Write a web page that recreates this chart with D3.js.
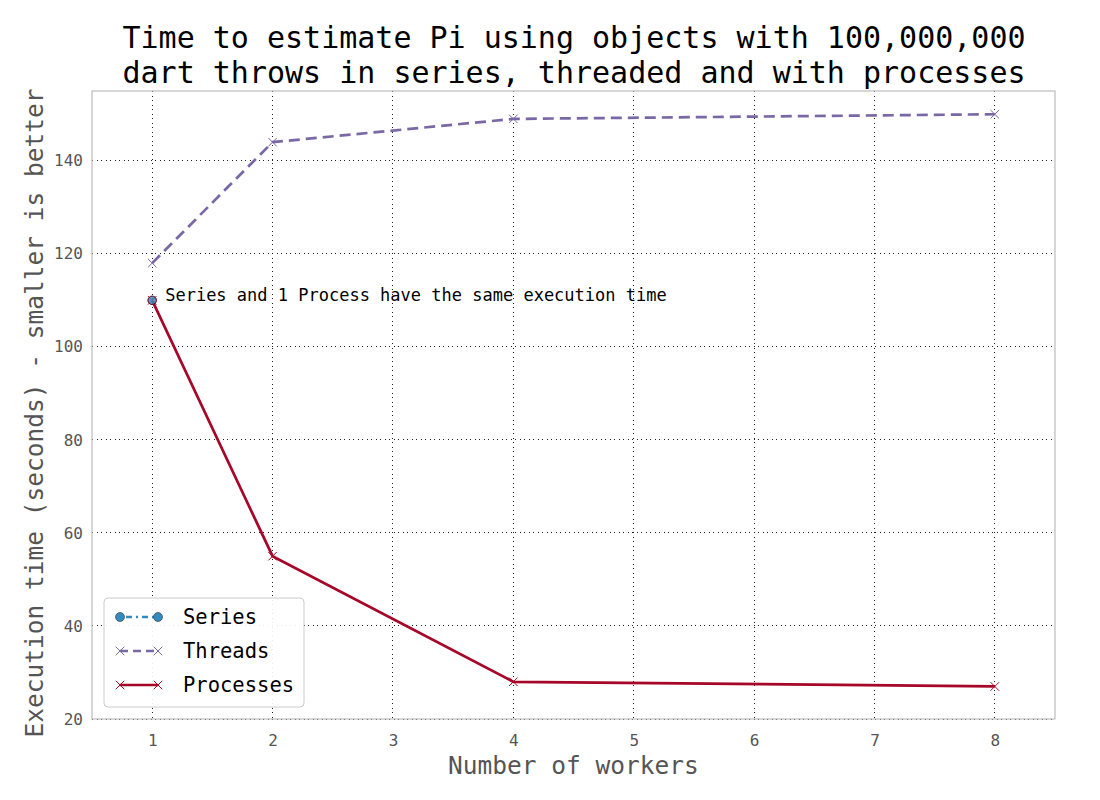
<!DOCTYPE html>
<html>
<head>
<meta charset="utf-8">
<title>Time to estimate Pi</title>
<script src="https://d3js.org/d3.v7.min.js"></script>
<style>
  body { margin: 0; background: #fff; }
  text { font-family: "DejaVu Sans Mono", "Liberation Mono", monospace; }
</style>
</head>
<body>
<div id="chart"></div>
<script>
// ---- data ----
const seriesWorkers = [1];
const seriesTimes = [110];
const threadWorkers = [1, 2, 4, 8];
const threadTimes = [118, 144, 149, 150];
const processWorkers = [1, 2, 4, 8];
const processTimes = [110, 55, 28, 27];
const xTicks = [1, 2, 3, 4, 5, 6, 7, 8];
const yTicks = [20, 40, 60, 80, 100, 120, 140];

const width = 1100, height = 800;
const margin = {top: 91, right: 45, bottom: 81, left: 92};

const svg = d3.select("#chart").append("svg")
    .attr("width", width)
    .attr("height", height);

const x = d3.scaleLinear().domain([0.5, 8.5]).range([margin.left, width - margin.right]);
const y = d3.scaleLinear().domain([20, 155]).range([height - margin.bottom, margin.top]);

// grid
svg.append("g").selectAll("line").data(xTicks).join("line")
    .attr("x1", d => x(d)).attr("x2", d => x(d))
    .attr("y1", y.range()[1]).attr("y2", y.range()[0])
    .attr("stroke", "#222").attr("stroke-width", 1).attr("stroke-dasharray", "1,3.5")
    .attr("shape-rendering", "crispEdges");
svg.append("g").selectAll("line").data(yTicks).join("line")
    .attr("y1", d => y(d)).attr("y2", d => y(d))
    .attr("x1", x.range()[0]).attr("x2", x.range()[1])
    .attr("stroke", "#222").attr("stroke-width", 1).attr("stroke-dasharray", "1,3.5")
    .attr("shape-rendering", "crispEdges");

// axes (labels only, frame drawn separately)
const xAxis = svg.append("g")
    .attr("transform", `translate(0,${height - margin.bottom})`)
    .call(d3.axisBottom(x).tickValues(xTicks).tickSize(0).tickPadding(16));
const yAxis = svg.append("g")
    .attr("transform", `translate(${margin.left},0)`)
    .call(d3.axisLeft(y).tickValues(yTicks).tickSize(0).tickPadding(9));
[xAxis, yAxis].forEach(a => {
  a.select(".domain").remove();
  a.selectAll("text").attr("fill", "#555").style("font-size", "16px")
    .style("font-family", "'DejaVu Sans Mono', monospace");
});

// frame
svg.append("rect")
    .attr("x", margin.left).attr("y", margin.top)
    .attr("width", width - margin.left - margin.right)
    .attr("height", height - margin.top - margin.bottom)
    .attr("fill", "none").attr("stroke", "#bcbcbc").attr("stroke-width", 1.2);

// lines
const line = d3.line().x(d => x(d[0])).y(d => y(d[1]));

function xMarker(g, pts, color, size, sw) {
  g.selectAll("path.m").data(pts).join("path").attr("class", "m")
    .attr("d", d3.symbol().type(d3.symbolTimes).size(size * size))
    .attr("transform", d => `translate(${x(d[0])},${y(d[1])})`)
    .attr("fill", "none").attr("stroke", color).attr("stroke-width", sw);
}

const threadPts = d3.zip(threadWorkers, threadTimes);
const gT = svg.append("g");
gT.append("path").datum(threadPts).attr("d", line)
    .attr("fill", "none").attr("stroke", "#7A68A6").attr("stroke-width", 2.7)
    .attr("stroke-dasharray", "11,6");
xMarker(gT, threadPts, "#7A68A6", 7, 1);

const processPts = d3.zip(processWorkers, processTimes);
const gP = svg.append("g");
gP.append("path").datum(processPts).attr("d", line)
    .attr("fill", "none").attr("stroke", "#A60628").attr("stroke-width", 2.7);
xMarker(gP, processPts, "#A60628", 7, 1);

const seriesPts = d3.zip(seriesWorkers, seriesTimes);
svg.append("g").selectAll("circle").data(seriesPts).join("circle")
    .attr("cx", d => x(d[0])).attr("cy", d => y(d[1])).attr("r", 4.2)
    .attr("fill", "#348ABD").attr("fill-opacity", 0.8)
    .attr("stroke", "#A60628").attr("stroke-width", 1);
svg.append("g").selectAll("circle").data(seriesPts).join("circle")
    .attr("cx", d => x(d[0])).attr("cy", d => y(d[1])).attr("r", 4.2)
    .attr("fill", "none").attr("stroke", "#222").attr("stroke-width", 0.8).attr("stroke-opacity", 0.6);

// annotation
svg.append("text")
    .attr("x", x(seriesWorkers[0]) + 13).attr("y", y(seriesTimes[0]) + 1)
    .style("font-size", "17px").attr("fill", "#000")
    .text("Series and 1 Process have the same execution time");

// title
const title = svg.append("text").attr("text-anchor", "middle").style("font-size", "30px");
title.append("tspan").attr("x", 574).attr("y", 48).text("Time to estimate Pi using objects with 100,000,000");
title.append("tspan").attr("x", 574).attr("y", 83).text("dart throws in series, threaded and with processes");

// axis labels
svg.append("text")
    .attr("x", (x.range()[0] + x.range()[1]) / 2).attr("y", 774)
    .attr("text-anchor", "middle").attr("fill", "#555").style("font-size", "24.5px")
    .text("Number of workers");
svg.append("text")
    .attr("transform", `translate(43,${(y.range()[0] + y.range()[1]) / 2 + 8}) rotate(-90)`)
    .attr("text-anchor", "middle").attr("fill", "#555").style("font-size", "24.5px")
    .text("Execution time (seconds) - smaller is better");

// legend
const legend = svg.append("g").attr("transform", "translate(104,598)");
legend.append("rect").attr("width", 200).attr("height", 109).attr("rx", 4)
    .attr("fill", "#fff").attr("fill-opacity", 0.9).attr("stroke", "#ccc").attr("stroke-width", 1);
const items = [
  {label: "Series", color: "#348ABD", dash: "2,4,6,4", marker: "o"},
  {label: "Threads", color: "#7A68A6", dash: "8,5", marker: "x"},
  {label: "Processes", color: "#A60628", dash: null, marker: "x"}
];
items.forEach((it, i) => {
  const cy = 19 + i * 34;
  const g = legend.append("g").attr("transform", `translate(0,${cy})`);
  g.append("line").attr("x1", 16).attr("x2", 54).attr("y1", 0).attr("y2", 0)
    .attr("stroke", it.color).attr("stroke-width", 2.7)
    .attr("stroke-dasharray", it.dash);
  [16, 54].forEach(mx => {
    if (it.marker === "o") {
      g.append("circle").attr("cx", mx).attr("cy", 0).attr("r", 4.5)
        .attr("fill", it.color).attr("stroke", "#333").attr("stroke-width", 0.6);
    } else {
      g.append("path").attr("d", d3.symbol().type(d3.symbolTimes).size(49))
        .attr("transform", `translate(${mx},0)`)
        .attr("fill", "none").attr("stroke", it.color).attr("stroke-width", 1);
    }
  });
  g.append("text").attr("x", 79).attr("y", 7).style("font-size", "20.5px").attr("fill", "#000").text(it.label);
});
</script>
</body>
</html>
